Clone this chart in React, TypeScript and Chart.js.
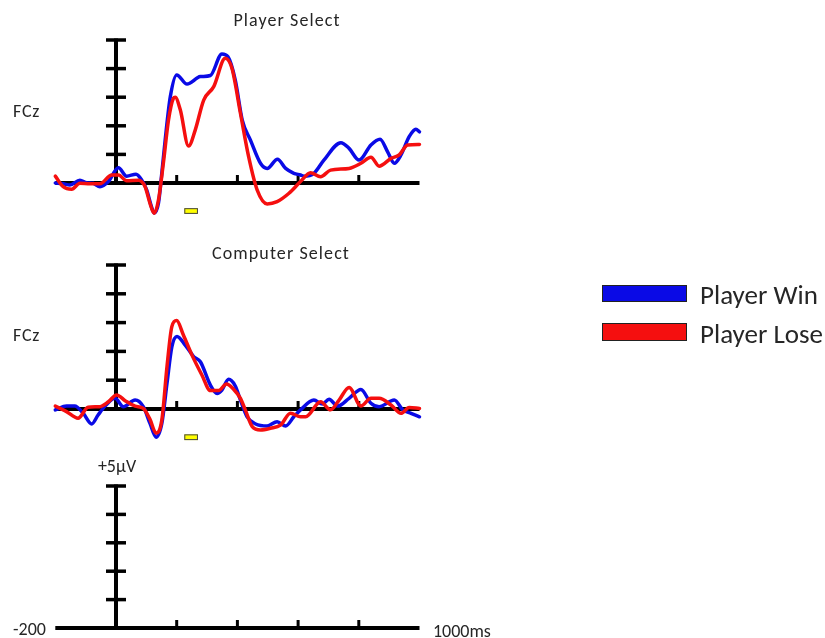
import React, { useEffect, useRef } from 'react';
import { Chart, registerables } from 'chart.js';

Chart.register(...registerables);

// ---- data (time in ms, amplitude in µV) ----
const psWinTimes = [-200,-174,-152,-119,-97,-75,-53,-25,8,35,66,85,101,118,126,140,151,162,179,200,234,278,311,349,369,393,416,443,476,498,532,559,586,608,619,652,685,741,768,801,840,870,895,917,939,966,988,1000];
const psWinValues = [0.0,-0.03,-0.07,0.10,0.01,-0.01,-0.13,0.05,0.53,0.24,0.31,0.10,-0.24,-0.87,-1.05,-0.70,0.35,1.50,3.02,3.78,3.46,3.72,3.76,4.51,4.41,3.60,2.20,1.50,0.69,0.51,0.83,0.51,0.34,0.28,0.24,0.34,0.80,1.41,1.21,0.80,1.33,1.53,1.09,0.69,0.98,1.62,1.88,1.79];

const psLoseTimes = [-200,-174,-146,-119,-86,-53,-14,8,35,74,96,112,126,140,156,173,189,195,212,239,261,289,322,360,382,410,437,465,498,531,570,608,641,674,707,768,807,840,867,906,933,961,1000];
const psLoseValues = [0.24,-0.13,-0.22,-0.01,-0.03,-0.03,0.28,0.28,0.08,0.10,-0.13,-0.71,-1.06,-0.59,0.69,2.20,2.96,3.00,2.55,1.29,1.85,2.90,3.37,4.36,4.01,2.44,0.92,-0.24,-0.73,-0.65,-0.36,0.05,0.36,0.22,0.45,0.51,0.69,0.90,0.59,0.86,0.98,1.33,1.35];

const csWinTimes = [-200,-163,-136,-108,-80,-59,-36,-3,24,63,90,112,132,151,168,184,201,228,256,278,311,333,349,371,393,410,432,460,498,531,559,586,608,652,680,702,730,768,807,840,867,917,945,972,1000];
const csWinValues = [-0.03,0.10,0.10,-0.15,-0.52,-0.21,0.10,0.37,0.08,0.31,0.08,-0.50,-0.98,-0.50,0.89,2.16,2.52,2.22,1.82,1.64,0.83,0.54,0.66,1.03,0.80,0.31,-0.27,-0.52,-0.59,-0.44,-0.59,-0.27,-0.03,0.31,0.17,0.34,0.10,0.37,0.68,0.20,0.08,0.31,-0.03,-0.15,-0.27];

const csLoseTimes = [-200,-163,-125,-92,-53,-25,2,30,63,90,112,132,151,168,184,200,222,250,283,311,338,364,388,410,426,449,476,509,542,575,608,625,674,707,735,768,807,840,867,906,939,966,1000];
const csLoseValues = [0.10,-0.09,-0.32,0.06,0.08,0.25,0.49,0.29,0.10,0.02,-0.36,-0.84,-0.38,1.47,2.86,3.07,2.57,1.88,1.18,0.64,0.64,0.87,0.68,0.37,-0.03,-0.61,-0.73,-0.67,-0.56,-0.15,-0.27,-0.27,0.25,-0.03,0.31,0.75,0.10,0.37,0.37,0.14,-0.15,0.05,0.02];

const timeRange = [-200, 1000];
const timeTicks = [200, 400, 600, 800];
const ampTicks = [1, 2, 3, 4, 5];
const analysisWindow = [225, 270];
const windowAmp = [-0.88, -1.08];

const panelTitles = ['Player Select', 'Computer Select'];
const seriesNames = ['Player Win', 'Player Lose'];
const channelName = 'FCz';

const BLUE = '#0a0ae6';
const RED = '#f50f0f';
const FONT = 'Calibri, Carlito, "Liberation Sans", Arial, sans-serif';

const toPts = (t: number[], v: number[]) => t.map((x, i) => ({ x, y: v[i] }));

const axesPlugin = {
  id: 'erpAxes',
  beforeDatasetsDraw(chart: any) {
    const { ctx, scales } = chart;
    const xs = scales.x;
    ['y1', 'y2', 'y3'].forEach((id) => {
      const ys = scales[id];
      const y0 = ys.getPixelForValue(0);
      const x0 = xs.getPixelForValue(0);
      ctx.save();
      ctx.strokeStyle = '#000';
      ctx.lineCap = 'butt';
      ctx.lineWidth = 4;
      ctx.beginPath();
      ctx.moveTo(xs.getPixelForValue(timeRange[0]), y0);
      ctx.lineTo(xs.getPixelForValue(timeRange[1]), y0);
      ctx.stroke();
      ctx.beginPath();
      ctx.moveTo(x0, y0 + 2);
      ctx.lineTo(x0, ys.getPixelForValue(5) - 1.5);
      ctx.stroke();
      ctx.lineWidth = 3.5;
      ampTicks.forEach((v) => {
        const py = ys.getPixelForValue(v);
        ctx.beginPath();
        ctx.moveTo(x0 - 10, py);
        ctx.lineTo(x0 + 10, py);
        ctx.stroke();
      });
      ctx.lineWidth = 3;
      timeTicks.forEach((t) => {
        const px = xs.getPixelForValue(t);
        ctx.beginPath();
        ctx.moveTo(px, y0);
        ctx.lineTo(px, y0 - 8);
        ctx.stroke();
      });
      ctx.restore();
    });
    ['y1', 'y2'].forEach((id) => {
      const ys = scales[id];
      const l = xs.getPixelForValue(analysisWindow[0]);
      const r = xs.getPixelForValue(analysisWindow[1]);
      const t = ys.getPixelForValue(windowAmp[0]);
      const b = ys.getPixelForValue(windowAmp[1]);
      ctx.save();
      ctx.fillStyle = '#ffff00';
      ctx.fillRect(l, t, r - l, b - t);
      ctx.strokeStyle = '#444';
      ctx.lineWidth = 1;
      ctx.strokeRect(l + 0.5, t + 0.5, r - l - 1, b - t - 1);
      ctx.restore();
    });
  },
};

function ErpChart() {
  const ref = useRef<HTMLCanvasElement | null>(null);
  useEffect(() => {
    if (!ref.current) return;
    const ds = (label: string, data: any[], color: string, yAxisID: string, order: number) => ({
      label,
      data,
      borderColor: color,
      backgroundColor: color,
      borderWidth: 3.5,
      pointRadius: 0,
      cubicInterpolationMode: 'monotone' as const,
      borderJoinStyle: 'round' as const,
      borderCapStyle: 'round' as const,
      fill: false,
      xAxisID: 'x',
      yAxisID,
      order,
    });
    const pxPerMs = 0.3035;
    const chart = new Chart(ref.current, {
      type: 'line',
      data: {
        datasets: [
          ds(seriesNames[0], toPts(psWinTimes, psWinValues), BLUE, 'y1', 1),
          ds(seriesNames[1], toPts(psLoseTimes, psLoseValues), RED, 'y1', 0),
          ds(seriesNames[0], toPts(csWinTimes, csWinValues), BLUE, 'y2', 1),
          ds(seriesNames[1], toPts(csLoseTimes, csLoseValues), RED, 'y2', 0),
        ],
      },
      options: {
        animation: false,
        responsive: false,
        devicePixelRatio: 1,
        layout: { padding: 0 },
        plugins: { legend: { display: false }, tooltip: { enabled: false }, title: { display: false } },
        events: [],
        scales: {
          x: { type: 'linear', display: false, min: -116 / pxPerMs, max: (825 - 116) / pxPerMs },
          y1: { type: 'linear', display: false, min: -(638 - 183) / 28.6, max: 183 / 28.6 },
          y2: { type: 'linear', display: false, min: -(638 - 409) / 28.8, max: 409 / 28.8 },
          y3: { type: 'linear', display: false, min: -(638 - 628) / 28.4, max: 628 / 28.4 },
        },
      },
      plugins: [axesPlugin],
    });
    return () => chart.destroy();
  }, []);
  return <canvas ref={ref} width={825} height={638} style={{ position: 'absolute', left: 0, top: 0, width: 825, height: 638 }} />;
}

const txt = (extra: React.CSSProperties): React.CSSProperties => ({
  position: 'absolute',
  fontFamily: FONT,
  color: '#262626',
  lineHeight: 1,
  whiteSpace: 'nowrap',
  ...extra,
});

export default function App() {
  return (
    <div style={{ position: 'absolute', left: 0, top: 0, width: 825, height: 638, background: '#fff', overflow: 'hidden' }}>
      <ErpChart />
      <span style={txt({ left: 287, top: 20, fontSize: 18, letterSpacing: 1.1, transform: 'translate(-50%,-50%)' })}>{panelTitles[0]}</span>
      <span style={txt({ left: 281, top: 253, fontSize: 18, letterSpacing: 1.1, transform: 'translate(-50%,-50%)' })}>{panelTitles[1]}</span>
      <span style={txt({ left: 13, top: 111, fontSize: 18, letterSpacing: 0.8, transform: 'translateY(-50%)' })}>{channelName}</span>
      <span style={txt({ left: 13, top: 335, fontSize: 18, letterSpacing: 0.8, transform: 'translateY(-50%)' })}>{channelName}</span>
      <span style={txt({ left: 117, top: 466, fontSize: 18, transform: 'translate(-50%,-50%)' })}>+5μV</span>
      <span style={txt({ left: 13, top: 629, fontSize: 18, transform: 'translateY(-50%)' })}>-200</span>
      <span style={txt({ left: 433, top: 631, fontSize: 18, transform: 'translateY(-50%)' })}>1000ms</span>
      <div style={{ position: 'absolute', left: 602, top: 285, width: 85, height: 17, background: BLUE, border: '1px solid #222', boxSizing: 'border-box' }} />
      <div style={{ position: 'absolute', left: 602, top: 323, width: 85, height: 18, background: RED, border: '1px solid #222', boxSizing: 'border-box' }} />
      <span style={txt({ left: 700, top: 294, fontSize: 27, transform: 'translateY(-50%)' })}>{seriesNames[0]}</span>
      <span style={txt({ left: 700, top: 333, fontSize: 27, transform: 'translateY(-50%)' })}>{seriesNames[1]}</span>
    </div>
  );
}
